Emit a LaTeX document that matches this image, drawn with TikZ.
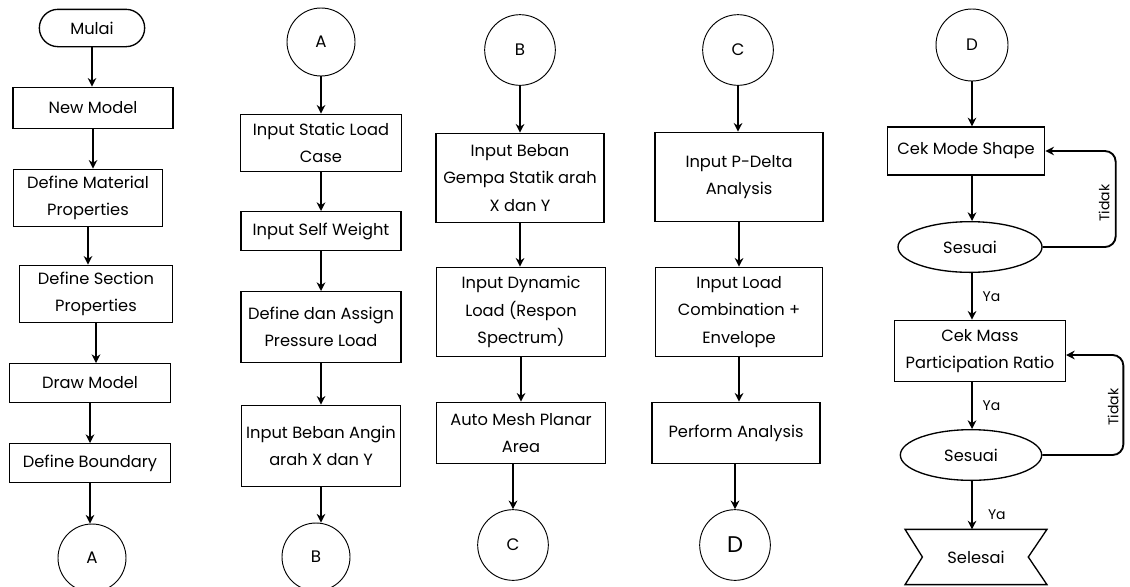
\documentclass[tikz,border=0pt]{standalone}
\usepackage{fontspec}
\setmainfont{Poppins}
\usetikzlibrary{arrows.meta,shapes.geometric}
\begin{document}
\begin{tikzpicture}[x=.75pt,y=-.75pt,>={Stealth[length=6.5pt,width=6.5pt]},
  box/.style={draw,line width=1pt,align=center,inner sep=1pt,font=\fontsize{12.2}{20.5}\selectfont},
  con/.style={draw,circle,line width=.7pt,inner sep=0pt,minimum size=51pt,font=\fontsize{12.5}{14}\selectfont},
  arr/.style={->,line width=1.4pt},
  lbl/.style={font=\fontsize{10.5}{12}\selectfont}]
\useasboundingbox (0,0) rectangle (1130,586);
% kolom 1
\node[box,rounded corners=14pt,minimum width=79pt,minimum height=28pt] (mulai) at (92,28) {Mulai};
\node[box,minimum width=120pt,minimum height=31pt] (newmodel) at (93,108) {New Model};
\node[box,minimum width=112pt,minimum height=43pt] (material) at (88,198) {Define Material\\Properties};
\node[box,minimum width=115pt,minimum height=43pt] (section) at (96,294) {Define Section\\Properties};
\node[box,minimum width=121pt,minimum height=29pt] (drawmodel) at (90,383) {Draw Model};
\node[box,minimum width=121pt,minimum height=29pt] (boundary) at (90,463) {Define Boundary};
\node[con] (a1) at (92,558) {A};
\draw[arr] (mulai) -- (mulai |- newmodel.north);
\draw[arr] (newmodel) -- (newmodel |- material.north);
\draw[arr] (material) -- (material |- section.north);
\draw[arr] (section) -- (section |- drawmodel.north);
\draw[arr] (drawmodel) -- (drawmodel |- boundary.north);
\draw[arr] (boundary) -- (boundary |- a1.north);
% kolom 2
\node[con] (a2) at (321,42) {A};
\node[box,minimum width=121pt,minimum height=43pt] (staticload) at (321,143) {Input Static Load\\Case};
\node[box,minimum width=120pt,minimum height=29pt] (selfweight) at (321,231) {Input Self Weight};
\node[box,minimum width=120pt,minimum height=53pt] (pressure) at (321,327) {Define dan Assign\\Pressure Load};
\node[box,minimum width=119pt,minimum height=61pt] (angin) at (321,446) {Input Beban Angin\\arah X dan Y};
\node[con] (b1) at (316,557) {B};
\draw[arr] (a2) -- (a2 |- staticload.north);
\draw[arr] (staticload) -- (staticload |- selfweight.north);
\draw[arr] (selfweight) -- (selfweight |- pressure.north);
\draw[arr] (pressure) -- (pressure |- angin.north);
\draw[arr] (angin) -- (b1.north -| angin);
% kolom 3
\node[con,minimum size=53pt] (b2) at (520,50) {B};
\node[box,minimum width=126pt,minimum height=67pt] (gempa) at (520,178) {Input Beban\\Gempa Statik arah\\X dan Y};
\node[box,minimum width=127pt,minimum height=67pt] (dynamic) at (521,312) {Input Dynamic\\Load (Respon\\Spectrum)};
\node[box,minimum width=127pt,minimum height=46pt] (mesh) at (521,433) {Auto Mesh Planar\\Area};
\node[con,minimum size=53pt] (c1) at (513,545) {C};
\draw[arr] (b2) -- (b2 |- gempa.north);
\draw[arr] (gempa) -- (gempa |- dynamic.north);
\draw[arr] (dynamic) -- (dynamic |- mesh.north);
\draw[arr] (mesh.south -| c1) -- (c1);
% kolom 4
\node[con,minimum size=53pt] (c2) at (738,50) {C};
\node[box,minimum width=126pt,minimum height=67pt] (pdelta) at (739,177) {Input P-Delta\\Analysis};
\node[box,minimum width=125pt,minimum height=67pt] (combo) at (739,312) {Input Load\\Combination +\\Envelope};
\node[box,minimum width=126pt,minimum height=46pt] (perform) at (736,433) {Perform Analysis};
\node[con,minimum size=53pt,font=\fontsize{17}{19}\selectfont] (d1) at (735,545) {D};
\draw[arr] (c2) -- (c2 |- pdelta.north);
\draw[arr] (pdelta) -- (pdelta |- combo.north);
\draw[arr] (combo) -- (combo |- perform.north);
\draw[arr] (perform.south -| d1) -- (d1);
% kolom 5
\node[con,minimum size=54pt] (d2) at (972,45) {D};
\node[box,minimum width=118pt,minimum height=36pt] (ms) at (966,151) {Cek Mode Shape};
\node[box,ellipse,minimum width=108pt,minimum height=38pt] (ses1) at (970,247) {Sesuai};
\node[box,minimum width=128pt,minimum height=46pt] (mr) at (980,351) {Cek Mass\\Participation Ratio};
\node[box,ellipse,minimum width=106pt,minimum height=38pt] (ses2) at (971,455) {Sesuai};
\node[minimum width=106pt,minimum height=41pt,font=\fontsize{12.2}{14}\selectfont] (selesai) at (976,557) {Selesai};
\draw[line width=1pt] (selesai.north west) -- (selesai.north east) -- ([xshift=-14pt]selesai.east)
  -- (selesai.south east) -- (selesai.south west) -- ([xshift=13pt]selesai.west) -- cycle;
\draw[arr] (d2) -- (d2 |- ms.north);
\draw[arr] (d2 |- ms.south) -- (d2 |- ses1.north);
\draw[arr] (d2 |- ses1.south) -- (d2 |- mr.north) node[lbl,midway,right=4pt] (ya1) {Ya};
\draw[arr] (d2 |- mr.south) -- (d2 |- ses2.north) node[lbl,midway,right=4pt] (ya2) {Ya};
\draw[arr] (d2 |- ses2.south) -- (d2 |- selesai.north) node[lbl,pos=.7,right=8pt] (ya3) {Ya};
\draw[arr,rounded corners=8pt] (ses1.east) -- ++(73,0) |- (ms.east);
\draw[arr,rounded corners=8pt] (ses2.east) -- ++(81,0) |- ([yshift=-3pt]mr.east);
\node[lbl,rotate=90] (tidak1) at (1104,203) {Tidak};
\node[lbl,rotate=90] (tidak2) at (1113,407) {Tidak};
\end{tikzpicture}
\end{document}
